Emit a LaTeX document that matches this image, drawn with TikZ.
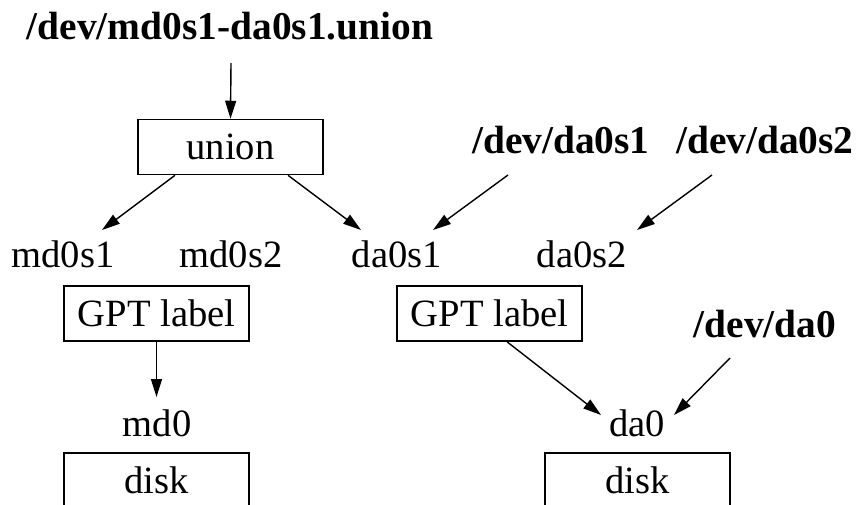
\documentclass[tikz,border=0pt]{standalone}
\usepackage{fontspec}
\setmainfont{Liberation Serif}
\usetikzlibrary{arrows.meta}
\tikzset{
  plain/.style={anchor=base, inner sep=0pt, font=\fontsize{19.3}{23}\selectfont},
  devlabel/.style={anchor=base, inner sep=0pt, font=\fontsize{19.7}{23}\selectfont\bfseries},
  boxnode/.style={draw, line width=0.75pt, minimum width=92.5pt, minimum height=27.5pt, inner sep=0pt, font=\fontsize{19.3}{23}\selectfont},
  arr/.style={line width=0.7pt, -{Triangle[length=9pt,width=5.5pt]}}
}
\begin{document}
\begin{tikzpicture}[x=0.5pt,y=-0.5pt]
\useasboundingbox (0,0) rectangle (857,504);
\clip (0,0) rectangle (857,504);
% labels
\node[devlabel] (t) at (230,39) {/dev/md0s1-da0s1.union};
\node[devlabel] (dda0s1) at (561,153) {/dev/da0s1};
\node[devlabel] (dda0s2) at (765,153) {/dev/da0s2};
\node[devlabel] (dda0) at (765,337) {/dev/da0};
\node[plain] (md0s1) at (63,267) {md0s1};
\node[plain] (md0s2) at (231,267) {md0s2};
\node[plain] (da0s1) at (397,267) {da0s1};
\node[plain] (da0s2) at (582,267) {da0s2};
\node[plain] (md0) at (157,436) {md0};
\node[plain] (da0) at (637,436) {da0};
% boxes
\node[boxnode] (union) at (230.5,147) {union};
\node[boxnode] (gptL) at (156.5,313.5) {GPT label};
\node[boxnode] (gptR) at (489.5,313.5) {GPT label};
\node[boxnode, anchor=north] (diskL) at (156.5,452) {disk};
\node[boxnode, anchor=north] (diskR) at (637.5,452) {disk};
% connectors
\draw[arr] ([shift={(1,24)}]t.base) -- (union.north);
\draw[arr] ([shift={(-55.5,0)}]union.south) -- ([shift={(39,-37)}]md0s1.base);
\draw[arr] ([shift={(57.5,0)}]union.south) -- ([shift={(-36,-37)}]da0s1.base);
\draw[arr] ([shift={(-53,22)}]dda0s1.base) -- ([shift={(36,-37)}]da0s1.base);
\draw[arr] ([shift={(-53,22)}]dda0s2.base) -- ([shift={(55,-37)}]da0s2.base);
\draw[arr] (gptL.south) -- ([shift={(-0.5,-39)}]md0.base);
\draw[arr] ([shift={(17.5,0)}]gptR.south) -- ([shift={(-36,-21)}]da0.base);
\draw[arr] ([shift={(-35,21)}]dda0.base) -- ([shift={(37,-21)}]da0.base);
\end{tikzpicture}
\end{document}
